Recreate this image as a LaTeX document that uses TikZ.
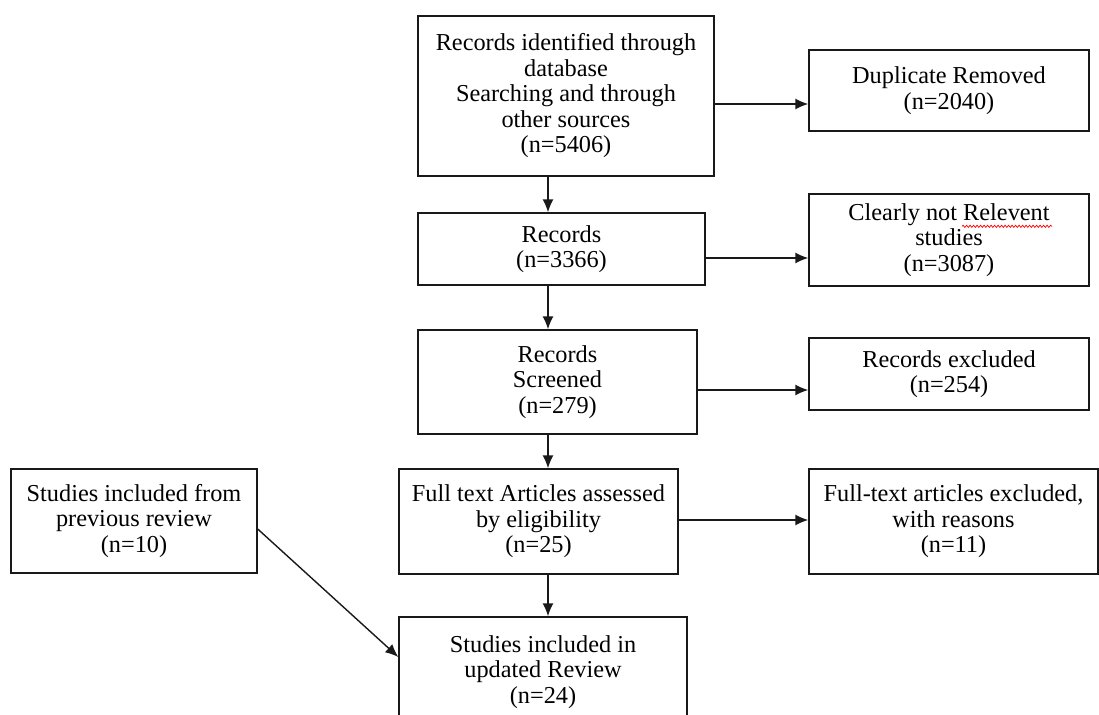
\documentclass[tikz,border=0pt]{standalone}
\usepackage{fontspec}
\setmainfont{Liberation Serif}
\usetikzlibrary{arrows.meta,decorations.pathmorphing}

\begin{document}
\begin{tikzpicture}[x=1pt, y=-1pt, >={Latex[length=13pt,width=11pt]},
  box/.style={draw=black!90, line width=1.4pt, align=center, inner sep=0pt,
    font=\fontsize{24.3}{25.5}\selectfont},
  link/.style={->, draw=black!90, line width=1.4pt}]
  \path[use as bounding box, clip] (0,0) rectangle (1099,714);
  \node[box, minimum width=296pt, minimum height=160pt] (ident) at (566,96)
    {Records identified through\\database\\Searching and through\\other sources\\(n=5406)};
  \node[box, minimum width=280pt, minimum height=81pt] (dup) at (949,90.5)
    {Duplicate Removed\\(n=2040)};
  \node[box, minimum width=287pt, minimum height=72pt] (rec) at (561.5,249)
    {Records\\(n=3366)};
  \node[box, minimum width=280pt, minimum height=92pt] (notrel) at (949,240)
    {Clearly not Relevent\\studies\\(n=3087)};
  \node[box, minimum width=279pt, minimum height=104pt] (screen) at (557.5,382)
    {Records\\Screened\\(n=279)};
  \node[box, minimum width=280pt, minimum height=72pt] (excl) at (949,374)
    {Records excluded\\(n=254)};
  \node[box, minimum width=279pt, minimum height=105pt] (full) at (538.5,521.5)
    {Full text Articles assessed\\by eligibility\\(n=25)};
  \node[box, minimum width=289pt, minimum height=105pt] (fullexcl) at (953.5,521.5)
    {Full-text articles excluded,\\with reasons\\(n=11)};
  \node[box, minimum width=246pt, minimum height=104pt] (prev) at (134,521)
    {Studies included from\\previous review\\(n=10)};
  \node[box, minimum width=288pt, minimum height=110pt] (incl) at (543,672)
    {Studies included in\\updated Review\\(n=24)};
  % spell-check wave under the misspelt word
  \draw[red, line width=0.7pt, decorate, decoration={snake, amplitude=1.1pt, segment length=3.5pt}]
    ([xshift=13pt,yshift=-33pt]notrel.north) -- ([xshift=103pt,yshift=-33pt]notrel.north);
  % main column
  \draw[link] (ident.south -| 548,0) -- (rec.north -| 548,0);
  \draw[link] (rec.south -| 548,0) -- (screen.north -| 548,0);
  \draw[link] (screen.south -| 548,0) -- (full.north -| 548,0);
  \draw[link] (full.south -| 548,0) -- (incl.north -| 548,0);
  % side boxes
  \draw[link] (ident.east |- 0,104) -- (dup.west |- 0,104);
  \draw[link] (rec.east |- 0,258) -- (notrel.west |- 0,258);
  \draw[link] (screen.east |- 0,390) -- (excl.west |- 0,390);
  \draw[link] (full.east |- 0,520) -- (fullexcl.west |- 0,520);
  \draw[link] (prev.east |- 0,529) -- (incl.west |- 0,657);
\end{tikzpicture}
\end{document}
